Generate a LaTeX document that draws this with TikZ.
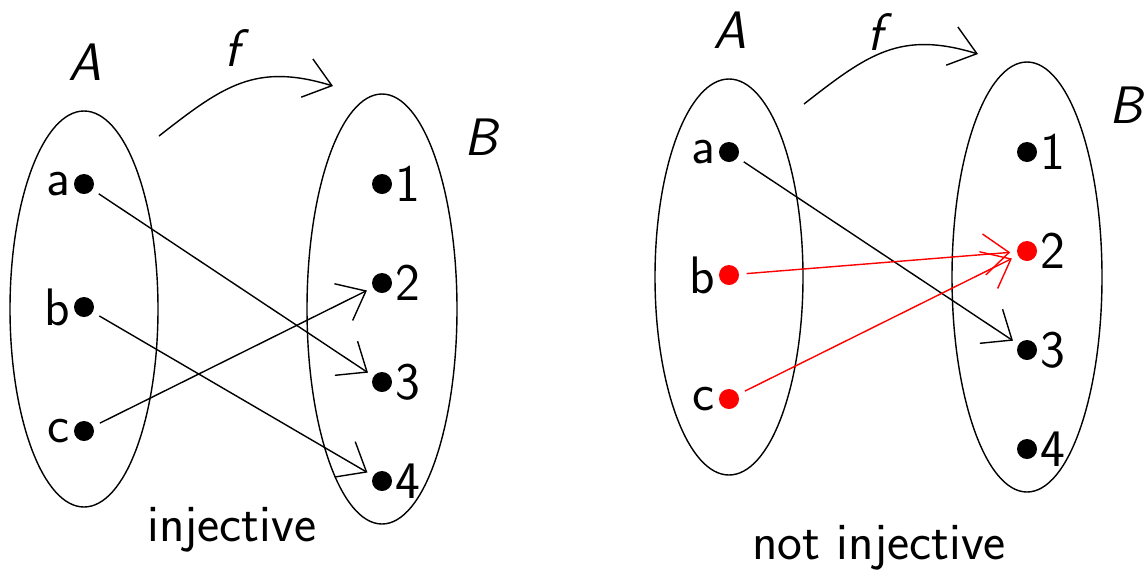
\documentclass[tikz,border=0pt]{standalone}
\usepackage{tikz}
\usetikzlibrary{arrows.meta,positioning}
\newcommand{\setfont}{\fontsize{30}{36}\selectfont\sffamily}

\begin{document}
\begin{tikzpicture}[line width=0.8pt,
  every node/.style={font=\setfont},
  elt/.style={circle,fill=black,inner sep=0pt,minimum size=0.4cm},
  hot/.style={elt,fill=red},
  tag/.style={inner sep=0pt},
  maps/.style={-{Straight Barb[length=0.5cm,width=0.82cm]},shorten <=4pt,shorten >=3.5pt},
  fmap/.style={-{Straight Barb[length=0.52cm,width=0.8cm]}}]
\useasboundingbox (0,0) rectangle (22.92,-11.48);

% injective
\draw (1.68,-6.18) ellipse (1.48 and 3.96);
\draw (7.64,-6.18) ellipse (1.5 and 4.3);
\node (A) at (1.7,-1.24) {\textit{A}};
\node (B) at (9.64,-2.74) {\textit{B}};
\node (f) at (4.74,-0.96) {\textit{f}};
\coordinate (fs) at (3.18,-2.72);
\coordinate (ft) at (6.66,-1.72);
\draw[fmap] (fs) to[out=38,in=163,looseness=1.15] (ft);
\node[elt] (a) at (1.68,-3.68) {};
\node[elt] (b) at (1.68,-6.14) {};
\node[elt] (c) at (1.68,-8.62) {};
\node[tag,left=1.5pt of a] (ta) {a};
\node[tag,left=1.5pt of b] (tb) {b};
\node[tag,left=1.5pt of c] (tc) {c};
\foreach \k/\y in {1/-3.68,2/-5.66,3/-7.64,4/-9.62}{
  \node[elt] (p\k) at (7.64,\y) {};
  \node[tag,right=1pt of p\k] (tp\k) {\k};
}
\draw[maps] (a) -- (p3);
\draw[maps] (b) -- (p4);
\draw[maps] (c) -- (p2);
\node (cap) at (4.64,-10.6) {injective};

% not injective
\begin{scope}[shift={(12.9,0.64)}]
\draw (1.68,-6.18) ellipse (1.48 and 3.96);
\draw (7.64,-6.18) ellipse (1.5 and 4.3);
\node (rA) at (1.7,-1.24) {\textit{A}};
\node (rB) at (9.64,-2.74) {\textit{B}};
\node (rf) at (4.7,-1.28) {\textit{f}};
\coordinate (rfs) at (3.18,-2.72);
\coordinate (rft) at (6.66,-1.72);
\draw[fmap] (rfs) to[out=38,in=163,looseness=1.15] (rft);
\node[elt] (ra) at (1.68,-3.68) {};
\node[hot] (rb) at (1.68,-6.14) {};
\node[hot] (rc) at (1.68,-8.62) {};
\node[tag,left=1.5pt of ra] (tra) {a};
\node[tag,left=1.5pt of rb] (trb) {b};
\node[tag,left=1.5pt of rc] (trc) {c};
\foreach \k/\y/\s in {1/-3.68/elt,2/-5.66/hot,3/-7.64/elt,4/-9.62/elt}{
  \node[\s] (q\k) at (7.64,\y) {};
  \node[tag,right=1pt of q\k] (tq\k) {\k};
}
\draw[maps] (ra) -- (q3);
\draw[maps,red] (rb) -- (q2);
\draw[maps,red] (rc) -- (q2);
\node (rcap) at (4.68,-11.6) {not injective};
\end{scope}
\end{tikzpicture}
\end{document}
